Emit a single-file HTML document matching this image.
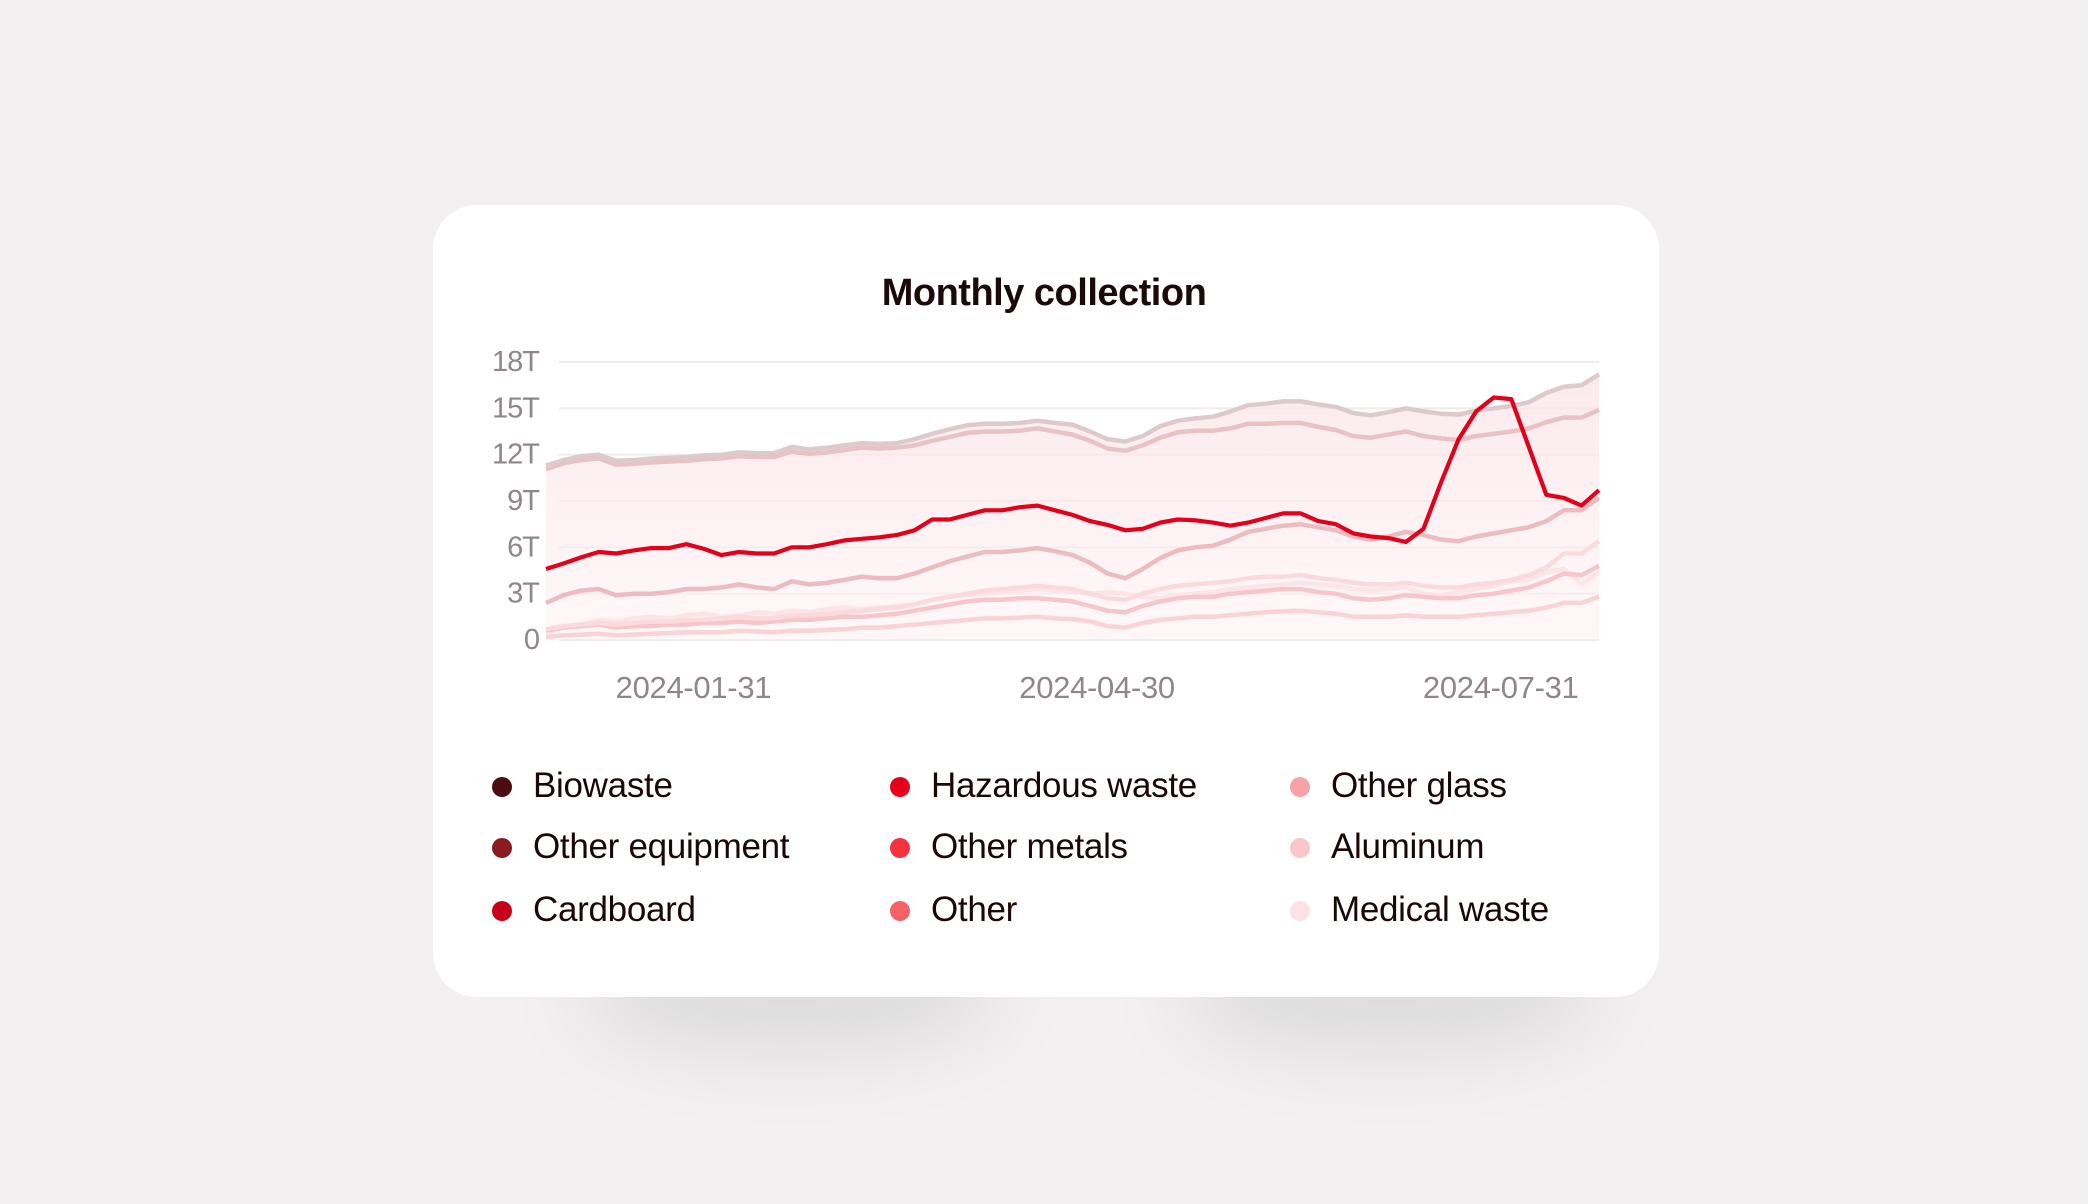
<!DOCTYPE html>
<html><head><meta charset="utf-8"><style>
body{margin:0;width:2088px;height:1204px;background:#f2f0f1;font-family:"Liberation Sans",sans-serif;overflow:hidden;position:relative}
.shadow{position:absolute;border-radius:50%;background:rgba(0,0,0,0.09);filter:blur(40px)}
#card{position:absolute;left:433px;top:205px;width:1226px;height:792px;background:#fff;border-radius:44px}
#title{position:absolute;left:0;width:100%;top:272px;text-align:center;font-weight:bold;font-size:38px;color:#1a0a0a;letter-spacing:-0.5px}
.leg{position:absolute;font-size:35px;color:#1a0707;letter-spacing:-0.3px;line-height:40px}
.dot{position:absolute;width:20px;height:20px;border-radius:50%}
</style></head><body>
<div class="shadow" style="left:580px;top:930px;width:420px;height:120px"></div>
<div class="shadow" style="left:1180px;top:930px;width:420px;height:120px"></div>
<div id="card"></div>
<div id="title">Monthly collection</div>
<svg id="chart" width="2088" height="1204" style="position:absolute;left:0;top:0">
<defs><linearGradient id="fillg" x1="0" y1="0" x2="0" y2="1"><stop offset="0" stop-color="#fbe3e6" stop-opacity="0.75"/><stop offset="1" stop-color="#fdf0f1" stop-opacity="0.5"/></linearGradient></defs>
<g id="grid"></g><g id="area"></g><g id="lines"></g><g id="labels"></g>
</svg>
<div id="legend"></div>
<script>
const yTicks=[0,3,6,9,12,15,18];
const yTickLabels=["0","3T","6T","9T","12T","15T","18T"];
const xTickIdx=[8.4,31.4,54.4];
const xTickLabels=["2024-01-31","2024-04-30","2024-07-31"];
const totalSeries=[11.3,11.65,11.9,12.0,11.6,11.65,11.75,11.8,11.85,11.95,12.0,12.15,12.1,12.1,12.5,12.35,12.45,12.6,12.75,12.7,12.75,13.0,13.35,13.65,13.9,14.0,14.0,14.05,14.2,14.05,13.95,13.5,13.0,12.85,13.2,13.85,14.2,14.35,14.45,14.8,15.2,15.3,15.45,15.45,15.25,15.1,14.7,14.55,14.75,15.0,14.8,14.65,14.6,14.85,15.0,15.15,15.4,16.0,16.4,16.5,17.2];
const series2=[11.05,11.45,11.65,11.75,11.35,11.4,11.5,11.55,11.6,11.7,11.75,11.9,11.85,11.85,12.2,12.05,12.15,12.3,12.45,12.4,12.45,12.6,12.9,13.15,13.4,13.5,13.5,13.55,13.7,13.5,13.3,12.9,12.4,12.25,12.6,13.1,13.45,13.55,13.55,13.7,14.0,14.0,14.05,14.05,13.8,13.6,13.2,13.1,13.3,13.5,13.2,13.05,12.95,13.2,13.35,13.5,13.7,14.1,14.4,14.4,14.9];
const series3=[2.4,2.9,3.2,3.3,2.9,3.0,3.0,3.1,3.3,3.3,3.4,3.6,3.4,3.3,3.8,3.6,3.7,3.9,4.1,4.0,4.0,4.3,4.7,5.1,5.4,5.7,5.7,5.8,5.95,5.75,5.5,5.0,4.3,4.0,4.6,5.3,5.8,6.0,6.1,6.5,7.0,7.2,7.4,7.5,7.3,7.1,6.7,6.5,6.7,7.0,6.8,6.5,6.4,6.7,6.9,7.1,7.3,7.7,8.4,8.4,9.2];
const series4=[0.7,0.9,1.0,1.1,1.0,1.1,1.2,1.2,1.3,1.3,1.4,1.5,1.4,1.4,1.6,1.6,1.7,1.8,1.9,2.0,2.1,2.3,2.6,2.8,3.0,3.2,3.3,3.4,3.5,3.4,3.3,3.0,2.7,2.6,3.0,3.3,3.5,3.6,3.7,3.8,4.0,4.1,4.1,4.2,4.0,3.9,3.7,3.6,3.6,3.7,3.5,3.4,3.4,3.6,3.7,3.9,4.2,4.7,5.6,5.6,6.4];
const series5=[0.6,0.8,0.9,1.0,0.8,0.9,0.9,1.0,1.0,1.1,1.1,1.2,1.1,1.2,1.3,1.3,1.4,1.5,1.5,1.6,1.7,1.9,2.1,2.3,2.5,2.6,2.6,2.7,2.7,2.6,2.5,2.2,1.9,1.8,2.2,2.5,2.7,2.8,2.8,3.0,3.1,3.2,3.3,3.3,3.1,3.0,2.7,2.6,2.7,2.9,2.8,2.7,2.7,2.9,3.0,3.2,3.4,3.8,4.3,4.2,4.8];
const series6=[0.2,0.3,0.35,0.4,0.3,0.35,0.4,0.45,0.5,0.5,0.5,0.6,0.55,0.5,0.6,0.6,0.65,0.7,0.8,0.8,0.9,1.0,1.1,1.2,1.3,1.4,1.4,1.45,1.5,1.4,1.35,1.2,0.9,0.8,1.1,1.3,1.4,1.5,1.5,1.6,1.7,1.8,1.85,1.9,1.8,1.7,1.5,1.5,1.5,1.6,1.5,1.5,1.5,1.6,1.7,1.8,1.9,2.1,2.4,2.4,2.8];
const series7=[0.5,0.8,1.0,1.3,1.2,1.4,1.5,1.4,1.6,1.7,1.5,1.6,1.8,1.7,1.9,1.8,2.0,2.1,2.0,2.1,2.2,2.3,2.6,2.8,2.9,3.0,3.1,3.2,3.3,3.2,3.1,3.0,3.1,3.0,2.8,2.7,2.9,3.0,3.1,3.3,3.4,3.5,3.6,3.7,3.6,3.5,3.3,3.2,3.3,3.4,3.0,2.9,3.1,3.3,3.5,3.8,3.9,4.4,4.6,3.6,4.4];
const hazardous=[4.6,4.95,5.35,5.7,5.6,5.8,5.95,5.95,6.2,5.9,5.5,5.7,5.6,5.6,6.0,6.0,6.2,6.45,6.55,6.65,6.8,7.1,7.8,7.8,8.1,8.4,8.4,8.6,8.7,8.4,8.1,7.7,7.45,7.1,7.2,7.6,7.8,7.75,7.6,7.4,7.6,7.9,8.2,8.2,7.7,7.5,6.9,6.7,6.6,6.35,7.2,10.2,13.0,14.8,15.7,15.6,12.5,9.4,9.2,8.7,9.7];
const legendNames=["Biowaste","Other equipment","Cardboard","Hazardous waste","Other metals","Other","Other glass","Aluminum","Medical waste"];
const legendColors=["#4a0c10","#8a1a1f","#c9001a","#e8001b","#f5333f","#f66268","#f6a2a7","#f9c7ca","#fce2e4"];

const X0=546,X1=1599,Y0=640,Y1=362,N=totalSeries.length;
const xs=i=>X0+i/(N-1)*(X1-X0);
const ys=v=>Y0-v/18*(Y0-Y1);
const NS='http://www.w3.org/2000/svg';
function mk(tag,attrs,parent){const e=document.createElementNS(NS,tag);for(const k in attrs)e.setAttribute(k,attrs[k]);parent.appendChild(e);return e;}
const grid=document.getElementById('grid'),labels=document.getElementById('labels'),lines=document.getElementById('lines'),area=document.getElementById('area');
yTicks.forEach((t,k)=>{
  const l=mk('line',{x1:559,x2:1599,y1:ys(t),y2:ys(t),stroke:'#f0ecec','stroke-width':2},grid);
  
  
  const tx=mk('text',{x:539,y:ys(t)+9,'text-anchor':'end','font-size':29,fill:'#8f8787','font-family':'Liberation Sans, sans-serif','letter-spacing':'-1'},labels);
  tx.textContent=yTickLabels[k];
  
  
});
xTickIdx.forEach((t,k)=>{
  const tx=mk('text',{x:xs(t),y:698,'text-anchor':'middle','font-size':31,fill:'#8f8787','font-family':'Liberation Sans, sans-serif','letter-spacing':'-0.3'},labels);
  tx.textContent=xTickLabels[k];
  
  
});
const pts=a=>a.map((v,i)=>xs(i).toFixed(1)+','+ys(v).toFixed(1)).join(' ');
const ar=mk('polygon',{points:pts(totalSeries)+' '+xs(N-1)+','+Y0+' '+xs(0)+','+Y0,fill:'url(#fillg)'},area);


const defs=[[series7,'#fde4e6','medical-waste-line'],[series6,'#f9d3d6','aluminum-line'],[series5,'#f6c6ca','other-glass-line'],[series4,'#fbdadd','other-line'],[series3,'#ecbcc0','other-metals-line'],[series2,'#e9c2c5','cardboard-line'],[totalSeries,'#dccacc','total-line']];
defs.forEach(d=>{
  const p=mk('polyline',{points:pts(d[0]),fill:'none',stroke:d[1],'stroke-width':4.5,'stroke-linejoin':'round'},lines);
  
  
});
const hz=mk('polyline',{points:pts(hazardous),fill:'none',stroke:'#e2001a','stroke-width':4.2,'stroke-linejoin':'round'},lines);



const leg=document.getElementById('legend');
const colX=[502,900,1300],rowY=[787,848,911];
legendNames.forEach((n,i)=>{
  const c=Math.floor(i/3),r=i%3;
  const d=document.createElement('div');d.className='dot';
  d.style.left=(colX[c]-10)+'px';d.style.top=(rowY[r]-10)+'px';d.style.background=legendColors[i];
  
  
  leg.appendChild(d);
  const t=document.createElement('div');t.className='leg';t.textContent=n;
  t.style.left=(colX[c]+31)+'px';t.style.top=(rowY[r]-21)+'px';
  
  
  leg.appendChild(t);
});
</script>
</body></html>
